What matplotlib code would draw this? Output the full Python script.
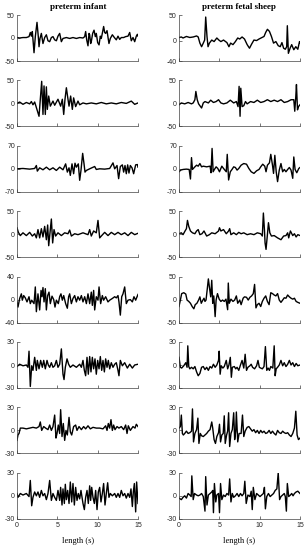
import matplotlib
matplotlib.use("Agg")
import matplotlib.pyplot as plt

plt.rcParams["axes.unicode_minus"] = False

# EEG segments: (time in s, amplitude)
infant_1 = [(0, 1), (0.33, 0), (0.74, 1), (1.16, 1), (1.49, 3), (1.65, 12), (1.78, 4), (1.9, 14),
            (2.02, -12), (2.11, -32), (2.27, 3), (2.48, 34), (2.64, 3), (2.73, -19), (2.85, -1),
            (3.02, 10), (3.22, -12), (3.43, 1), (3.64, 7), (3.84, -6), (4.05, -8), (4.26, 1),
            (4.46, 3), (4.67, -4), (4.88, -6), (5.08, 4), (5.29, 10), (5.5, -8), (5.7, -1),
            (6.12, 1), (6.53, -1), (6.94, 1), (7.36, -1), (7.77, 1), (8.18, 0), (8.39, 3),
            (8.51, 14), (8.64, -4), (8.8, -17), (8.93, 10), (9.01, 7), (9.13, -12), (9.21, -8),
            (9.38, 10), (9.55, 17), (9.71, 3), (9.83, 10), (10.0, -10), (10.17, -15), (10.33, 4),
            (10.45, -1), (10.62, 14), (10.74, 25), (10.87, 12), (10.99, 10), (11.16, 16),
            (11.32, -3), (11.4, -12), (11.57, -1), (11.82, 7), (12.07, 1), (12.31, -4),
            (12.52, 4), (12.73, -3), (12.93, 1), (13.22, 1), (13.47, 3), (13.76, 4), (13.97, 12),
            (14.17, -6), (14.38, 1), (14.59, -8), (14.79, 4), (14.92, 8), (15, 4)]
infant_2 = [(0, 0), (0.33, 3), (0.74, -2), (1.16, 2), (1.57, -1), (1.78, 4), (1.98, -3), (2.19, 3),
            (2.4, -9), (2.73, -28), (2.89, 9), (3.06, 48), (3.22, -24), (3.35, 38), (3.51, -24),
            (3.64, 36), (3.76, -13), (3.93, 16), (4.13, -6), (4.46, 5), (4.67, -4), (5.08, 9),
            (5.41, -6), (5.62, 9), (5.79, -24), (5.95, 9), (6.12, 34), (6.32, 9), (6.45, -6),
            (6.65, 16), (6.86, -13), (7.02, 12), (7.27, -7), (7.56, 5), (7.77, -3), (8.18, 1),
            (8.6, -1), (9.21, 1), (9.83, -1), (10.45, 2), (11.07, -1), (11.69, 1), (12.31, -1),
            (12.93, 2), (13.55, 0), (14.17, 5), (14.59, -2), (15, 1)]
infant_3 = [(0, 0), (0.74, 1), (1.57, -1), (2.19, 1), (2.4, 10), (2.52, -7), (2.81, 3), (3.22, -3),
            (3.64, 5), (4.05, -3), (4.46, 3), (4.88, -5), (5.29, 5), (5.7, -3), (6.03, 15),
            (6.24, -10), (6.45, 3), (6.61, -20), (6.82, 15), (7.02, -15), (7.19, 17), (7.36, 5),
            (7.6, 15), (7.77, -35), (7.93, -5), (8.14, 47), (8.31, 15), (8.43, -10), (8.6, -5),
            (9.01, 0), (9.63, 7), (9.83, -2), (10.25, 0), (10.87, -1), (11.49, 1), (11.9, 18),
            (12.11, 0), (12.4, 10), (12.6, -30), (12.81, 7), (13.06, 12), (13.22, -10),
            (13.39, 10), (13.55, -15), (13.72, 12), (13.88, -13), (14.05, 10), (14.26, 3),
            (14.46, -15), (14.71, 12), (14.92, 13), (15, 5)]
infant_4 = [(0, 14), (0.17, 4), (0.41, -3), (0.74, 3), (1.16, -3), (1.57, 4), (1.9, -4), (2.19, 1),
            (2.4, -8), (2.6, 10), (2.81, -8), (3.02, 12), (3.22, -6), (3.43, 17), (3.64, -12),
            (3.8, 20), (3.93, -25), (4.09, 3), (4.26, 33), (4.42, -19), (4.59, 10), (4.79, -4),
            (5.08, 3), (5.5, -3), (5.91, 3), (6.32, 1), (6.53, 9), (6.74, -4), (7.15, 1),
            (7.56, -1), (8.18, 3), (8.8, -1), (9.01, 10), (9.21, -4), (9.5, 7), (9.83, 3),
            (10.04, 30), (10.25, -8), (10.45, -4), (10.87, 4), (11.28, -3), (11.69, 4),
            (12.11, -1), (12.52, 4), (12.93, -1), (13.35, 3), (13.76, -3), (14.17, 4),
            (14.59, -1), (15, 2)]
infant_5 = [(0, -4), (0.12, -13), (0.33, 2), (0.54, 10), (0.66, -1), (0.83, 7), (1.03, 3), (1.24, -4),
            (1.49, 5), (1.65, -7), (1.82, -1), (2.11, -7), (2.27, 22), (2.4, -21), (2.6, 10),
            (2.81, -18), (2.98, 16), (3.1, 5), (3.22, 21), (3.35, -4), (3.51, 19), (3.64, -18),
            (3.8, 7), (3.97, 13), (4.13, -7), (4.34, 6), (4.55, 0), (4.71, -13), (4.88, -1),
            (5.12, -7), (5.29, 5), (5.45, 10), (5.62, -1), (5.79, 7), (6.03, -7), (6.24, -15),
            (6.4, 5), (6.53, 10), (6.74, -7), (6.94, 2), (7.15, 7), (7.36, -4), (7.56, 5),
            (7.77, -1), (7.98, 7), (8.18, -4), (8.39, 5), (8.6, -7), (8.8, 10), (9.01, -7),
            (9.21, 13), (9.34, -10), (9.5, 16), (9.63, -18), (9.83, 5), (10.04, -1), (10.17, 22),
            (10.37, -7), (10.58, 7), (10.74, -1), (10.99, 5), (11.28, -4), (11.49, -1),
            (11.82, 2), (12.11, 5), (12.31, 3), (12.52, 7), (12.64, -4), (12.81, -27),
            (12.98, 5), (13.14, 10), (13.35, 22), (13.55, -7), (13.76, -1), (14.05, 0),
            (14.3, -4), (14.5, 5), (14.71, -1), (15, 9)]
infant_6 = [(0, -2), (0.33, 1), (0.74, -1), (1.16, 0), (1.36, -3), (1.49, 18), (1.65, -28), (1.82, -1),
            (1.98, -7), (2.19, 10), (2.4, -7), (2.52, 6), (2.73, -5), (2.93, 6), (3.14, -3),
            (3.31, 6), (3.51, -5), (3.72, 6), (3.88, 0), (4.05, -3), (4.26, 3), (4.46, -3),
            (4.67, -1), (4.88, 6), (5.08, -3), (5.29, 1), (5.5, 21), (5.7, -12), (5.83, -19),
            (5.99, -3), (6.2, 8), (6.4, 1), (6.61, -3), (6.94, 0), (7.36, -3), (7.77, 1),
            (7.98, -3), (8.18, 6), (8.35, -7), (8.51, -14), (8.68, 10), (8.84, -12), (9.01, 11),
            (9.17, -9), (9.34, 10), (9.5, -5), (9.67, 8), (9.83, -12), (10.0, 6), (10.17, -5),
            (10.33, 11), (10.5, -7), (10.66, 6), (10.83, -9), (10.99, 8), (11.16, -3),
            (11.32, 6), (11.49, -5), (11.69, 3), (11.9, -3), (12.11, 1), (12.31, 3), (12.52, -7),
            (12.64, -14), (12.81, 6), (13.06, -1), (13.35, 3), (13.68, -4), (13.97, 1),
            (14.3, -4), (14.59, 0), (15, 1)]
infant_7 = [(0, -13), (0.12, -6), (0.25, -4), (0.41, 3), (0.74, 3), (1.16, 2), (1.57, 3), (1.98, 4),
            (2.4, 3), (2.73, 5), (2.89, 11), (3.06, 0), (3.31, 5), (3.55, 3), (3.84, 1), (4.05, 7),
            (4.26, 0), (4.46, 5), (4.67, 20), (4.83, -10), (4.96, -4), (5.12, 7), (5.29, -4),
            (5.41, 27), (5.58, -8), (5.74, 9), (5.91, -13), (6.07, 0), (6.24, -6), (6.45, 17),
            (6.61, -2), (6.78, -6), (7.02, 5), (7.27, 7), (7.44, 0), (7.69, 5), (7.98, 1),
            (8.26, 5), (8.51, 2), (8.8, 6), (9.09, 2), (9.42, 4), (9.83, 3), (10.25, 3),
            (10.66, 2), (10.99, 6), (11.16, 0), (11.32, 9), (11.49, 3), (11.65, 14), (11.82, 0),
            (11.98, 7), (12.15, 1), (12.4, 5), (12.64, 3), (12.93, 5), (13.22, 1), (13.47, 7),
            (13.64, -4), (13.8, 6), (14.05, 0), (14.38, 5), (14.63, 3), (14.79, 8), (15, 5)]
infant_8 = [(0, 3), (0.12, -2), (0.41, 3), (0.74, 1), (1.16, 3), (1.49, -1), (1.65, 20), (1.82, -13),
            (1.98, -2), (2.19, 5), (2.4, 0), (2.6, 5), (2.81, -2), (3.02, 7), (3.22, 0), (3.43, 3),
            (3.64, -5), (3.84, 3), (4.05, 20), (4.26, -6), (4.46, 3), (4.67, -2), (4.88, -6),
            (5.08, 7), (5.29, -6), (5.41, 11), (5.58, -12), (5.7, 9), (5.87, -10), (5.99, 15),
            (6.12, -5), (6.28, 7), (6.45, -10), (6.61, 18), (6.78, -8), (6.94, 16), (7.11, -12),
            (7.27, 11), (7.44, -6), (7.6, 3), (7.77, -4), (7.93, 7), (8.18, -10), (8.35, -18),
            (8.51, -2), (8.68, 7), (8.84, -10), (9.01, 13), (9.13, -6), (9.26, 11), (9.42, -2),
            (9.59, -10), (9.75, 7), (9.92, -18), (10.08, 5), (10.25, 11), (10.41, -8),
            (10.58, 3), (10.74, 16), (10.91, -12), (11.07, 3), (11.24, 17), (11.4, -2),
            (11.57, 3), (11.82, 0), (12.11, 3), (12.31, -2), (12.52, 3), (12.73, -2), (12.93, 7),
            (13.14, 0), (13.35, 3), (13.55, -3), (13.76, 3), (13.97, -2), (14.13, 9),
            (14.3, -14), (14.42, 5), (14.55, 16), (14.71, -21), (14.83, 18), (15, -10)]

sheep_1 = [(0, 6), (0.29, 7), (0.5, 5), (0.92, 8), (1.34, 6), (1.76, 7), (2.18, 9), (2.38, 7),
           (2.59, -5), (2.8, -12), (3.01, -5), (3.18, 1), (3.31, 46), (3.47, 8), (3.6, -12),
           (3.77, -5), (4.06, 1), (4.35, -2), (4.69, 5), (4.94, 1), (5.19, -2), (5.52, 1),
           (5.94, -4), (6.19, -12), (6.4, -5), (6.69, -8), (6.99, -2), (7.28, 5), (7.53, 3),
           (7.82, 7), (8.12, 3), (8.45, -8), (8.74, -15), (9.0, -7), (9.29, 1), (9.62, 0),
           (9.92, 3), (10.54, 8), (10.75, 16), (10.96, 22), (11.21, 18), (11.46, 8), (11.72, -5),
           (12.01, -2), (12.3, -10), (12.55, -12), (12.76, -4), (12.97, -15), (13.18, -17),
           (13.35, -12), (13.43, 29), (13.56, -25), (13.77, -15), (13.97, -8), (14.23, -18),
           (14.48, -12), (14.73, -17), (14.94, -2), (15, -4)]
sheep_2 = [(0, -3), (0.29, 1), (0.71, -1), (1.13, 2), (1.55, -1), (1.76, 1), (1.97, 8), (2.09, 26),
           (2.26, 8), (2.43, -1), (2.59, -5), (2.8, -10), (3.01, 1), (3.22, 4), (3.64, 1),
           (3.93, 7), (4.27, 2), (4.6, 4), (4.9, 8), (5.19, 1), (5.52, -1), (5.94, 1), (6.36, 7),
           (6.78, 1), (7.11, 4), (7.32, -7), (7.45, 37), (7.57, -28), (7.66, 33), (7.82, -7),
           (8.03, -5), (8.24, 4), (8.45, -1), (8.87, 4), (9.29, 2), (9.71, 7), (10.13, 2),
           (10.54, 4), (10.96, 8), (11.38, 4), (11.8, 7), (12.22, 4), (12.64, 8), (13.05, 2),
           (13.47, 4), (13.89, 8), (14.23, 8), (14.35, -17), (14.48, 15), (14.56, 41),
           (14.69, -14), (14.81, -7), (15, -3)]
sheep_3 = [(0, -9), (0.21, -4), (0.5, -2), (0.92, -1), (1.26, -2), (1.42, -31), (1.55, 34), (1.67, -2),
           (1.97, 6), (2.18, 11), (2.38, 8), (2.59, 16), (2.8, 6), (3.01, 8), (3.43, 6), (3.85, 8),
           (3.97, -12), (4.1, 62), (4.23, -9), (4.39, -2), (4.6, 6), (4.81, 1), (5.02, -9),
           (5.31, 8), (5.52, 1), (5.86, -9), (5.98, 44), (6.15, -34), (6.36, -9), (6.57, -2),
           (6.78, 6), (6.99, 4), (7.2, -4), (7.41, 1), (7.7, 11), (8.03, 16), (8.37, 14),
           (8.66, 1), (8.95, -9), (9.29, -14), (9.62, -6), (9.92, -2), (10.13, 6), (10.38, 14),
           (10.63, 8), (10.79, -9), (10.96, 11), (11.21, 18), (11.38, 44), (11.59, 11),
           (11.72, -14), (11.88, 41), (12.05, -9), (12.22, -39), (12.43, -4), (12.64, 16),
           (12.85, -9), (13.05, -2), (13.26, -9), (13.47, -2), (13.68, 4), (13.89, -4),
           (14.1, -29), (14.23, 36), (14.39, -2), (14.6, -12), (14.85, 1), (15, 4)]
sheep_4 = [(0, 1), (0.29, 3), (0.5, -1), (0.75, 7), (0.92, 12), (1.05, 30), (1.21, 17), (1.42, 7),
           (1.67, 3), (1.97, 1), (2.18, 7), (2.38, 10), (2.59, -1), (2.85, 1), (3.1, 7), (3.43, -4),
           (3.77, -1), (4.06, 3), (4.48, 1), (4.9, 7), (5.02, 14), (5.19, 7), (5.52, 10),
           (5.86, 1), (6.15, 7), (6.28, 12), (6.44, -1), (6.78, 3), (7.11, -1), (7.41, 4),
           (7.7, 1), (8.03, 3), (8.45, -1), (8.87, 1), (9.29, -1), (9.71, 3), (10.13, 1),
           (10.33, -4), (10.46, 46), (10.59, 10), (10.67, -19), (10.79, -33), (10.96, -1),
           (11.09, 25), (11.26, 3), (11.46, -4), (11.8, -3), (12.22, -8), (12.64, -12),
           (12.97, -4), (13.26, -3), (13.47, 3), (13.6, -8), (13.81, 7), (14.1, -3), (14.31, 1),
           (14.52, -6), (14.73, -1), (15, -3)]
sheep_5 = [(0, -15), (0.17, -1), (0.33, 13), (0.59, 15), (0.84, 12), (1.0, -1), (1.21, -4), (1.42, -8),
           (1.63, -15), (1.84, -20), (2.01, -11), (2.22, -8), (2.43, -1), (2.59, 6), (2.76, -8),
           (2.93, -2), (3.1, 3), (3.22, -4), (3.35, -1), (3.51, 24), (3.64, 45), (3.77, 27),
           (3.93, 6), (4.06, 42), (4.18, -8), (4.31, 8), (4.48, -37), (4.6, -1), (4.77, 13),
           (4.98, 1), (5.19, -4), (5.4, -1), (5.61, -4), (5.82, 1), (6.03, -22), (6.11, 36),
           (6.23, -8), (6.44, 1), (6.69, -4), (6.9, -1), (7.11, 8), (7.28, -8), (7.53, -1),
           (7.7, -11), (7.95, 3), (8.12, 6), (8.37, 5), (8.58, -1), (8.79, 5), (9.0, 8),
           (9.21, 13), (9.37, 33), (9.54, -18), (9.71, -11), (9.92, -8), (10.13, -15),
           (10.33, -4), (10.54, 3), (10.75, 8), (10.96, -4), (11.17, -11), (11.38, 15),
           (11.59, 13), (11.8, 10), (12.01, 8), (12.22, 13), (12.43, -1), (12.64, -6),
           (12.85, -1), (13.05, 4), (13.26, 3), (13.47, 10), (13.68, 6), (13.89, 3), (14.1, 1),
           (14.31, 3), (14.52, -4), (14.73, -6), (15, -8)]
sheep_6 = [(0, 10), (0.17, -3), (0.33, -4), (0.59, -1), (0.84, 3), (1.0, -3), (1.09, 25), (1.21, -2),
           (1.34, -5), (1.55, -3), (1.76, -5), (1.97, -2), (2.18, -9), (2.38, -14), (2.59, -11),
           (2.8, -3), (3.01, -2), (3.22, -6), (3.43, -3), (3.64, -7), (3.85, -2), (4.06, -4),
           (4.27, 1), (4.48, -3), (4.69, 0), (4.9, 6), (4.98, 18), (5.1, -12), (5.23, -1),
           (5.44, -4), (5.61, -2), (5.86, 6), (6.03, -5), (6.19, 0), (6.36, 10), (6.49, -16),
           (6.61, -3), (6.86, -2), (7.03, -5), (7.2, -3), (7.41, -7), (7.62, 0), (7.82, 6),
           (8.03, -4), (8.2, 14), (8.37, -7), (8.54, -3), (8.79, -1), (8.95, 1), (9.12, -3),
           (9.37, -5), (9.62, -1), (9.79, 6), (9.96, -3), (10.13, -4), (10.33, -5), (10.54, -2),
           (10.71, 24), (10.88, -7), (11.05, -4), (11.21, -7), (11.38, -2), (11.63, -4),
           (11.8, 25), (11.92, -14), (12.05, -5), (12.22, -3), (12.43, 0), (12.64, 6),
           (12.85, -1), (13.05, 3), (13.26, -2), (13.47, 1), (13.68, 6), (13.89, 0), (14.1, 3),
           (14.31, -2), (14.52, 2), (14.73, -1), (15, 0)]
sheep_7 = [(0, 3), (0.17, 5), (0.29, 20), (0.42, -4), (0.54, -6), (0.71, -4), (0.92, -1), (1.13, -4),
           (1.34, -3), (1.55, -1), (1.67, 28), (1.8, -15), (1.97, -4), (2.18, 1), (2.34, 16),
           (2.47, -17), (2.64, -4), (2.8, -7), (3.01, -8), (3.22, -6), (3.43, -4), (3.64, -1),
           (3.85, 1), (4.06, 11), (4.18, 3), (4.35, -12), (4.52, -17), (4.69, -8), (4.9, -3),
           (5.02, 8), (5.15, -15), (5.31, -6), (5.48, -4), (5.61, 19), (5.73, -17), (5.9, -6),
           (6.03, -1), (6.15, 23), (6.28, -21), (6.44, -4), (6.61, 1), (6.78, 23), (6.9, -12),
           (7.03, -1), (7.11, 24), (7.28, -15), (7.45, -4), (7.7, -4), (7.87, 20), (8.03, -8),
           (8.2, -1), (8.45, 4), (8.66, 5), (8.87, 2), (9.08, -1), (9.29, 1), (9.5, -3),
           (9.71, 0), (9.92, -4), (10.13, 0), (10.33, -3), (10.54, -1), (10.75, -4), (10.96, -3),
           (11.17, 0), (11.38, -4), (11.59, -1), (11.8, -4), (12.01, -6), (12.22, 0), (12.43, -3),
           (12.64, -4), (12.85, -1), (13.05, -3), (13.26, -4), (13.47, -3), (13.68, -6),
           (13.89, -8), (14.1, -4), (14.31, 3), (14.48, 25), (14.64, -6), (14.81, -12), (15, -10)]
sheep_8 = [(0, -3), (0.29, -5), (0.5, -2), (0.71, 0), (0.92, -3), (1.13, 3), (1.34, 1), (1.51, -1),
           (1.59, 26), (1.76, -5), (1.92, 3), (2.18, 1), (2.38, 0), (2.59, 1), (2.8, 3), (3.01, -1),
           (3.22, -20), (3.31, 25), (3.47, -12), (3.64, 1), (3.85, 3), (4.06, 5), (4.18, 7),
           (4.27, -22), (4.39, 16), (4.56, -8), (4.69, 1), (4.9, 3), (5.02, -22), (5.15, 16),
           (5.31, -5), (5.52, 1), (5.73, -1), (5.94, 3), (6.15, 1), (6.28, 22), (6.44, -8),
           (6.61, 3), (6.78, -2), (6.99, 0), (7.2, 3), (7.41, -1), (7.62, 3), (7.82, 0), (8.03, 3),
           (8.16, 19), (8.33, -10), (8.54, 1), (8.79, -1), (8.95, 6), (9.08, -18), (9.21, 11),
           (9.41, -5), (9.62, 3), (9.83, 1), (10.04, -1), (10.25, 1), (10.46, 3), (10.59, 11),
           (10.71, -17), (10.88, -1), (11.09, 3), (11.3, -1), (11.51, 1), (11.72, 3), (11.92, 7),
           (12.13, 9), (12.3, 30), (12.47, -5), (12.64, -1), (12.85, 1), (13.05, 3), (13.18, -1),
           (13.31, -20), (13.43, 16), (13.6, -1), (13.81, 1), (13.97, 3), (14.14, 0), (14.31, 3),
           (14.52, 5), (14.73, 6), (15, 3)]

infant = [infant_1, infant_2, infant_3, infant_4, infant_5, infant_6, infant_7, infant_8]
sheep = [sheep_1, sheep_2, sheep_3, sheep_4, sheep_5, sheep_6, sheep_7, sheep_8]
infant_limits = [(-50, 50), (-50, 50), (-70, 70), (-50, 50), (-40, 40), (-30, 30), (-30, 30), (-30, 30)]
sheep_limits = [(-40, 50), (-50, 50), (-70, 70), (-50, 50), (-50, 50), (-30, 30), (-30, 30), (-30, 30)]
time_ticks = [0, 5, 10, 15]
column_titles = ["preterm infant", "preterm fetal sheep"]
x_label = "length (s)"

W, H = 307.0, 550.0
fig = plt.figure(figsize=(W / 100, H / 100), dpi=100)

tick_family = ["Liberation Sans", "DejaVu Sans"]
serif = ["Liberation Serif", "DejaVu Serif"]


def draw_panel(left, top, series, limits, last_row):
    ax = fig.add_axes([left / W, 1 - (top + 46) / H, 121 / W, 46 / H])
    t = [p[0] for p in series]
    v = [p[1] for p in series]
    ax.plot(t, v, color="black", lw=1.0)
    ax.set_xlim(0, 15)
    ax.set_ylim(*limits)
    ax.set_yticks([limits[0], 0, limits[1]])
    ax.set_xticks(time_ticks)
    for s in ["top", "right"]:
        ax.spines[s].set_visible(False)
    for s in ["left", "bottom"]:
        ax.spines[s].set_linewidth(0.5)
        ax.spines[s].set_color("#404040")
    ax.tick_params(direction="in", length=2, width=0.5, colors="#404040", pad=1.5)
    for lab in ax.get_yticklabels():
        lab.set_fontfamily(tick_family)
        lab.set_fontsize(5)
        lab.set_color("#262626")
    if last_row:
        ax.set_xticklabels([str(x) for x in time_ticks], fontfamily=tick_family,
                           fontsize=5, color="#262626")
        ax.tick_params(axis="x", pad=2)
    else:
        ax.set_xticklabels([])
    return ax


col_left = [17, 179]
col_center = [78, 239]
for col, (data, lims) in enumerate([(infant, infant_limits), (sheep, sheep_limits)]):
    for row in range(8):
        draw_panel(col_left[col], 15 + 65.4 * row, data[row], lims[row], row == 7)
    fig.text(col_center[col] / W, 1 - 7 / H, column_titles[col], ha="center", va="center",
             fontfamily=serif, fontweight="bold", fontsize=6.5)
    fig.text(col_center[col] / W, 1 - 541 / H, x_label, ha="center", va="center",
             fontfamily=serif, fontsize=6)

fig.savefig("out.png", dpi=100, facecolor="white")
